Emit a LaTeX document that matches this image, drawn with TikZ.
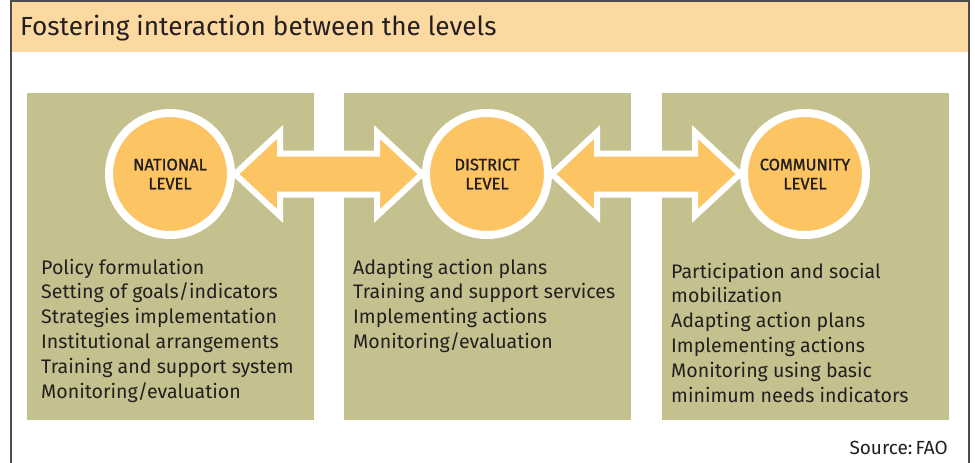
\documentclass[tikz,border=0pt]{standalone}
\usepackage{fontspec}
\setmainfont{Fira Sans}
\newfontfamily\levelfont[FakeBold=1.2]{Fira Sans}
\usetikzlibrary{positioning,calc}
\definecolor{bandorange}{RGB}{253,217,162}
\definecolor{panelkhaki}{RGB}{197,193,142}
\definecolor{levelorange}{RGB}{253,196,99}
\definecolor{inkgray}{RGB}{35,31,32}

\begin{document}
\begin{tikzpicture}[x=1pt, y=-1pt,
  panel/.style={fill=panelkhaki, inner sep=0, minimum width=287, minimum height=327, anchor=north west},
  level/.style={circle, fill=levelorange, draw=white, line width=8, minimum size=122,
    align=center, font=\levelfont\fontsize{16.5}{19}\selectfont, text=inkgray},
  lines/.style={anchor=base west, inner sep=0, align=left, font=\fontsize{19.6}{24.8}\selectfont, text=inkgray},
  link/.style={fill=levelorange, draw=white, line width=6, line join=miter}]
\useasboundingbox (0,0) rectangle (975,463);
% title band and frame
\fill[bandorange] (11,1) rectangle (969,52);
\draw[line width=1.5, gray!60!black] (11,463) -- (11,1) -- (969,1) -- (969,463);
\node[anchor=base west, inner sep=0, font=\fontsize{26.2}{30}\selectfont, text=inkgray] (title) at (20,35) {Fostering interaction between the levels};
% panels
\node[panel] (natpanel) at (27,93) {};
\node[panel] (dispanel) at (344,93) {};
\node[panel] (companel) at (662,93) {};
% levels
\node[level] (nat) at (170,174) {NATIONAL\\LEVEL};
\node[level] (dis) at (487,174) {DISTRICT\\LEVEL};
\node[level] (com) at (805,174) {COMMUNITY\\LEVEL};
% two-way arrows
\draw[link] (nat.east) -- ++(45,-42) -- ++(0,21.5) -- ($(dis.west)+(-45,-20.5)$) -- ++(0,-21.5)
  -- (dis.west) -- ++(-45,42) -- ++(0,-21.5) -- ($(nat.east)+(45,20.5)$) -- ++(0,21.5) -- cycle;
\draw[link] (dis.east) -- ++(45,-42) -- ++(0,21.5) -- ($(com.west)+(-45,-20.5)$) -- ++(0,-21.5)
  -- (com.west) -- ++(-45,42) -- ++(0,-21.5) -- ($(dis.east)+(45,20.5)$) -- ++(0,21.5) -- cycle;
% tasks (base = last line)
\node[lines] (natlist) at (41,398) {Policy formulation\\Setting of goals/indicators\\Strategies implementation\\Institutional arrangements\\Training and support system\\Monitoring/evaluation};
\node[lines] (dislist) at (353,348.4) {Adapting action plans\\Training and support services\\Implementing actions\\Monitoring/evaluation};
\node[lines] (comlist) at (671,402) {Participation and social\\mobilization\\Adapting action plans\\Implementing actions\\Monitoring using basic\\minimum needs indicators};
\node[anchor=base east, inner sep=0, font=\fontsize{19}{23}\selectfont, text=inkgray] (source) at (948,454) {Source:\,FAO};
\end{tikzpicture}
\end{document}
